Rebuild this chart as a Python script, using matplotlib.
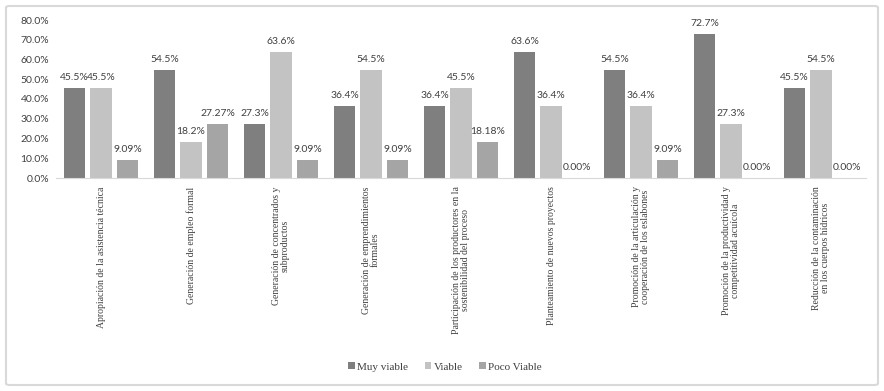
import matplotlib
matplotlib.use("Agg")
import matplotlib.pyplot as plt
import numpy as np
from matplotlib.patches import FancyBboxPatch

categories = [
    "Apropiación de la asistencia técnica",
    "Generación de empleo formal",
    "Generación de concentrados y\nsubproductos",
    "Generación de emprendimientos\nformales",
    "Participación de los productores en la\nsostenibilidad del proceso",
    "Planteamiento de nuevos proyectos",
    "Promoción de la articulación y\ncooperación de los eslabones",
    "Promoción de la productividad y\ncompetitividad acuícola",
    "Reducción de la contaminación\nen los cuerpos hídricos",
]
muy_viable = [45.5, 54.5, 27.3, 36.4, 36.4, 63.6, 54.5, 72.7, 45.5]
viable = [45.5, 18.2, 63.6, 54.5, 45.5, 36.4, 36.4, 27.3, 54.5]
poco_viable = [9.09, 27.27, 9.09, 9.09, 18.18, 0.00, 9.09, 0.00, 0.00]
series_names = ["Muy viable", "Viable", "Poco Viable"]
yticks = [0, 10, 20, 30, 40, 50, 60, 70, 80]

colors = ["#7f7f7f", "#c3c3c3", "#a5a5a5"]
decimals = [1, 1, 2]

fig = plt.figure(figsize=(8.84, 3.91), dpi=100)
fig.patch.set_facecolor("white")
border = FancyBboxPatch((6/884, 6/391), 872/884, 379/391,
                        boxstyle="round,pad=0,rounding_size=0.004",
                        transform=fig.transFigure, facecolor="none",
                        edgecolor="#d9d9d9", linewidth=1.5, zorder=-1)
fig.patches.append(border)

ax = fig.add_axes([56/884, 1-178/391, 810/884, 158/391])
ax.set_facecolor("none")
x = np.arange(len(categories))
width = 0.235
step = 0.294
all_series = [muy_viable, viable, poco_viable]
handles = []
for i, (vals, name) in enumerate(zip(all_series, series_names)):
    pos = x + (i - 1) * step
    b = ax.bar(pos, vals, width, color=colors[i], label=name, zorder=2)
    handles.append(b)
    for p, v in zip(pos, vals):
        ax.text(p, v + 3.2, f"{v:.{decimals[i]}f}%", ha="center", va="bottom",
                fontsize=7.5, family="Lato", color="#404040")

ax.set_xlim(-0.5, len(categories) - 0.5)
ax.set_ylim(0, 80)
ax.set_yticks(yticks)
ax.set_yticklabels([f"{t:.1f}%" for t in yticks], fontsize=7.5, family="Lato", color="#404040")
ax.tick_params(axis="y", length=0, pad=5)
ax.set_xticks(x)
ax.set_xticklabels(categories, rotation=90, ha="center", va="top",
                   fontsize=7, family="Liberation Serif", color="#404040",
                   linespacing=1.0)
ax.tick_params(axis="x", length=0, pad=6)
for s in ["top", "right", "left"]:
    ax.spines[s].set_visible(False)
ax.spines["bottom"].set_color("#d9d9d9")

fig.legend(handles=handles, labels=series_names, loc="center",
           bbox_to_anchor=(445/884, 1-367/391), ncol=3, frameon=False,
           prop={"family": "Liberation Serif", "size": 8},
           handlelength=0.6, handleheight=0.6, handletextpad=0.2,
           columnspacing=1.5, labelcolor="#404040")

fig.savefig("out.png", dpi=100)
